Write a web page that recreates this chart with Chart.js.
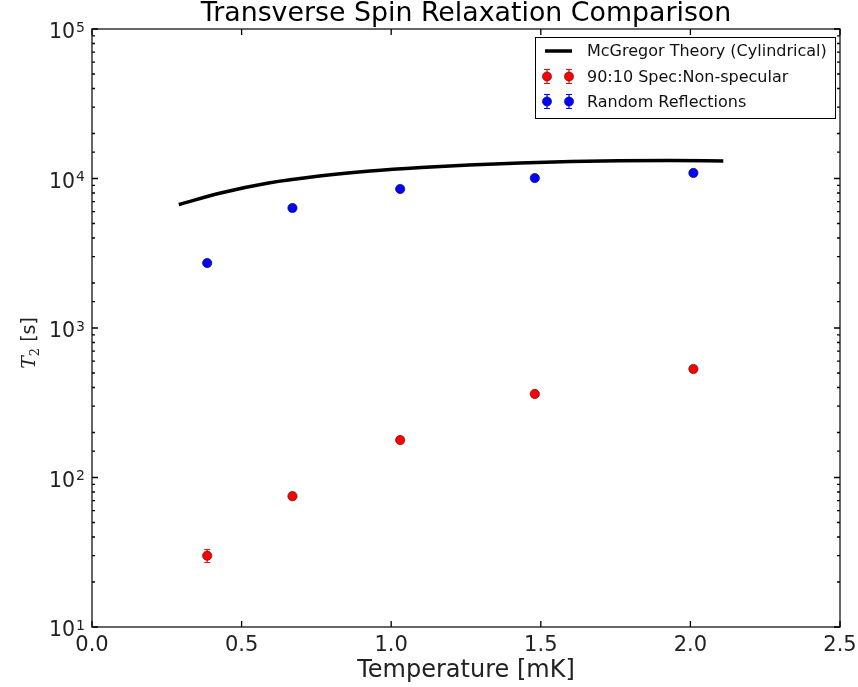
<!DOCTYPE html>
<html>
<head>
<meta charset="utf-8">
<script src="https://cdn.jsdelivr.net/npm/chart.js@4.4.1/dist/chart.umd.min.js"></script>
<style>
  html, body { margin: 0; padding: 0; background: #fff; }
  #wrap { width: 858px; height: 687px; position: relative; }
</style>
</head>
<body>
<div id="wrap"><canvas id="c" width="858" height="687"></canvas></div>
<script>
// ---- data ----
const temps = [0.385, 0.67, 1.03, 1.48, 2.01];
const specT2 = [30, 75, 178, 362, 532];
const specErr = [3, 4, 8, 15, 22];
const randT2 = [2720, 6350, 8510, 10070, 10890];
const randErr = [120, 250, 300, 350, 400];
const theoryT = [0.29, 0.43, 0.59, 0.76, 0.93, 1.10, 1.26, 1.43, 1.60, 1.76, 1.93, 2.11];
const theoryT2 = [6700, 8000, 9330, 10390, 11220, 11850, 12310, 12700, 12990, 13130, 13170, 13090];
const xTickVals = [0.0, 0.5, 1.0, 1.5, 2.0, 2.5];
const yTickExps = [1, 2, 3, 4, 5];

const titleText = 'Transverse Spin Relaxation Comparison';
const xLabelText = 'Temperature [mK]';
const labels = ['McGregor Theory (Cylindrical)', '90:10 Spec:Non-specular', 'Random Reflections'];

const FONT = "'DejaVu Sans', sans-serif";

const errs = [null, specErr, randErr];

const decor = {
  id: 'decor',
  beforeDatasetsDraw(chart) {
    const ctx = chart.ctx, ys = chart.scales.y;
    [1, 2].forEach(di => {
      const meta = chart.getDatasetMeta(di);
      const ds = chart.data.datasets[di];
      ctx.save();
      ctx.strokeStyle = ds.backgroundColor;
      ctx.lineWidth = 1.2;
      meta.data.forEach((pt, i) => {
        const v = ds.data[i].y, e = errs[di][i];
        const y1 = ys.getPixelForValue(v + e), y2 = ys.getPixelForValue(v - e);
        ctx.beginPath();
        ctx.moveTo(pt.x, y1); ctx.lineTo(pt.x, y2);
        ctx.moveTo(pt.x - 3, y1); ctx.lineTo(pt.x + 3, y1);
        ctx.moveTo(pt.x - 3, y2); ctx.lineTo(pt.x + 3, y2);
        ctx.stroke();
      });
      ctx.restore();
    });
  },
  afterDraw(chart) {
    const ctx = chart.ctx, ca = chart.chartArea;
    const xs = chart.scales.x, ys = chart.scales.y;
    ctx.save();
    // frame
    ctx.strokeStyle = '#333';
    ctx.lineWidth = 1.5;
    ctx.strokeRect(ca.left, ca.top, ca.right - ca.left, ca.bottom - ca.top);
    // ticks (inward, all sides)
    ctx.strokeStyle = '#000';
    ctx.lineWidth = 1.3;
    ctx.beginPath();
    xTickVals.forEach(v => {
      const px = xs.getPixelForValue(v);
      ctx.moveTo(px, ca.bottom); ctx.lineTo(px, ca.bottom - 6);
      ctx.moveTo(px, ca.top); ctx.lineTo(px, ca.top + 6);
    });
    ys.ticks.forEach(t => {
      const py = ys.getPixelForValue(t.value);
      const lg = Math.log10(t.value);
      const major = Math.abs(lg - Math.round(lg)) < 1e-9;
      const L = major ? 6 : 3;
      ctx.moveTo(ca.left, py); ctx.lineTo(ca.left + L, py);
      ctx.moveTo(ca.right, py); ctx.lineTo(ca.right - L, py);
    });
    ctx.stroke();

    // y tick labels 10^n
    ctx.fillStyle = '#222';
    ctx.textBaseline = 'alphabetic';
    ctx.textAlign = 'left';
    yTickExps.forEach(e => {
      const py = ys.getPixelForValue(Math.pow(10, e));
      ctx.font = '20.5px ' + FONT;
      const wb = ctx.measureText('10').width;
      ctx.font = '14px ' + FONT;
      const we = ctx.measureText(String(e)).width;
      const right = ca.left - 7;
      const x0 = right - we - wb - 1;
      ctx.font = '20.5px ' + FONT;
      ctx.fillText('10', x0, py + 9);
      ctx.font = '14px ' + FONT;
      ctx.fillText(String(e), x0 + wb + 1, py + 2.5);
    });

    // title
    ctx.fillStyle = '#000';
    ctx.font = '26.8px ' + FONT;
    ctx.textAlign = 'center';
    ctx.textBaseline = 'middle';
    ctx.fillText(titleText, (ca.left + ca.right) / 2, 14.5);

    // y label: T_2 [s]
    ctx.save();
    ctx.translate(28, 343);
    ctx.rotate(-Math.PI / 2);
    ctx.textBaseline = 'alphabetic';
    ctx.textAlign = 'left';
    ctx.fillStyle = '#222';
    const f1 = "italic 19px 'DejaVu Serif', serif", f2 = "13px 'DejaVu Serif', serif", f3 = '19px ' + FONT;
    ctx.font = f1; const w1 = ctx.measureText('T').width;
    ctx.font = f2; const w2 = ctx.measureText('2').width;
    ctx.font = f3; const w3 = ctx.measureText(' [s]').width;
    let x0 = -(w1 + w2 + w3) / 2;
    const base = 7;
    ctx.font = f1; ctx.fillText('T', x0, base); x0 += w1;
    ctx.font = f2; ctx.fillText('2', x0, base + 4); x0 += w2;
    ctx.font = f3; ctx.fillText(' [s]', x0, base);
    ctx.restore();

    // legend
    const lx = 535, ly = 37, lw = 300, lh = 81;
    ctx.fillStyle = '#fff';
    ctx.fillRect(lx, ly, lw, lh);
    ctx.strokeStyle = '#000';
    ctx.lineWidth = 1;
    ctx.strokeRect(lx + 0.5, ly + 0.5, lw, lh);
    const rows = [51, 76.5, 101.5];
    ctx.font = '16px ' + FONT;
    ctx.textAlign = 'left';
    ctx.textBaseline = 'middle';
    chart.data.datasets.forEach((ds, i) => {
      const ry = rows[i];
      if (i === 0) {
        ctx.strokeStyle = ds.borderColor; ctx.lineWidth = 3.5;
        ctx.beginPath(); ctx.moveTo(545, ry); ctx.lineTo(572, ry); ctx.stroke();
      } else {
        [547, 569].forEach(mx => {
          ctx.strokeStyle = ds.backgroundColor; ctx.lineWidth = 1.2;
          ctx.beginPath();
          ctx.moveTo(mx, ry - 7); ctx.lineTo(mx, ry + 7);
          ctx.moveTo(mx - 3, ry - 7); ctx.lineTo(mx + 3, ry - 7);
          ctx.moveTo(mx - 3, ry + 7); ctx.lineTo(mx + 3, ry + 7);
          ctx.stroke();
          ctx.beginPath(); ctx.arc(mx, ry, 4.5, 0, Math.PI * 2);
          ctx.fillStyle = ds.backgroundColor; ctx.fill();
          ctx.strokeStyle = ds.borderColor; ctx.lineWidth = 0.8; ctx.stroke();
        });
      }
      ctx.fillStyle = '#111';
      ctx.fillText(ds.label, 587, ry + 1);
    });
    ctx.restore();
  }
};

new Chart(document.getElementById('c'), {
  type: 'scatter',
  data: {
    datasets: [
      {
        type: 'line',
        label: labels[0],
        data: theoryT.map((t, i) => ({x: t, y: theoryT2[i]})),
        borderColor: '#000',
        borderWidth: 3.5,
        pointRadius: 0,
        fill: false,
        cubicInterpolationMode: 'monotone'
      },
      {
        label: labels[1],
        data: temps.map((t, i) => ({x: t, y: specT2[i]})),
        backgroundColor: '#ff0000',
        borderColor: '#7a1010',
        borderWidth: 0.8,
        pointRadius: 4.6
      },
      {
        label: labels[2],
        data: temps.map((t, i) => ({x: t, y: randT2[i]})),
        backgroundColor: '#0000ff',
        borderColor: '#10107a',
        borderWidth: 0.8,
        pointRadius: 4.6
      }
    ]
  },
  options: {
    responsive: false,
    animation: false,
    devicePixelRatio: 1,
    layout: { padding: { top: 29, right: 18, left: 0, bottom: 0 } },
    plugins: { legend: { display: false }, tooltip: { enabled: false }, title: { display: false } },
    scales: {
      x: {
        type: 'linear', min: 0, max: 2.5,
        grid: { display: false, drawTicks: false },
        border: { display: false },
        afterFit(s) { s.height = 60; s.paddingLeft = 0; s.paddingRight = 0; },
        afterBuildTicks(s) { s.ticks = xTickVals.map(v => ({value: v})); },
        ticks: {
          padding: 6,
          color: '#222',
          font: { family: FONT, size: 21 },
          callback: v => Number(v).toFixed(1)
        },
        title: {
          display: true, text: xLabelText, color: '#222',
          font: { family: FONT, size: 24 },
          padding: { top: 0, bottom: 2 }
        }
      },
      y: {
        type: 'logarithmic', min: 10, max: 100000,
        grid: { display: false, drawTicks: false },
        border: { display: false },
        afterFit(s) { s.width = 92; s.paddingTop = 0; s.paddingBottom = 0; },
        ticks: {
          display: false,
          autoSkip: false
        }
      }
    }
  },
  plugins: [decor]
});
</script>
</body>
</html>
